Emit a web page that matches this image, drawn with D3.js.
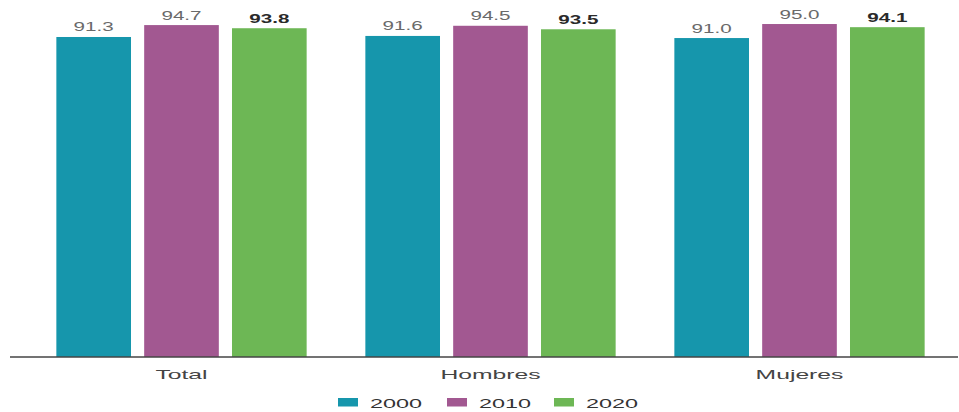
<!DOCTYPE html>
<html><head><meta charset="utf-8">
<script src="https://cdn.jsdelivr.net/npm/d3@7"></script>
<style>body{margin:0;background:#fff}svg{display:block;font-family:"Liberation Sans",Arial,sans-serif}</style>
</head><body><svg id="c" width="959" height="412"></svg>
<script>
const categories = ["Total", "Hombres", "Mujeres"];
const years = ["2000", "2010", "2020"];
const values2000 = [91.3, 91.6, 91.0];
const values2010 = [94.7, 94.5, 95.0];
const values2020 = [93.8, 93.5, 94.1];
const colors = ["#1696ac", "#a25891", "#6db755"];

const series = [values2000, values2010, values2020];
const svg = d3.select("#c");
const x0 = d3.scaleBand().domain(categories).range([27, 954]).paddingInner(0.19).paddingOuter(0.095);
const x1 = d3.scaleBand().domain(years).range([0, x0.bandwidth()]).paddingInner(0.15).paddingOuter(0);
const y = d3.scaleLinear().domain([0, 100]).range([357, 6.5]);

function stretchedText(sel, x, yy, sx, size, txt) {
  return sel.append("text").attr("transform", `translate(${x},${yy}) scale(${sx},1)`)
    .attr("font-size", size).text(txt);
}

categories.forEach((c, i) => {
  const g = svg.append("g").attr("transform", `translate(${x0(c)},0)`);
  years.forEach((yr, j) => {
    const v = series[j][i];
    g.append("rect").attr("x", x1(yr)).attr("y", y(v)).attr("width", x1.bandwidth()).attr("height", y(0) - y(v)).attr("fill", colors[j]);
    stretchedText(g, x1(yr) + x1.bandwidth() / 2, y(v) - 5.5, 1.65, 12.5, v.toFixed(1))
      .attr("text-anchor", "middle")
      .attr("font-weight", j === 2 ? "bold" : "normal")
      .attr("fill", j === 2 ? "#2a2a2a" : "#6a6a6a");
  });
});

const axis = svg.append("g").attr("transform", `translate(0,${y(0)})`)
  .call(d3.axisBottom(x0).tickSize(0).tickPadding(12));
axis.select(".domain").attr("d", "M10,0H958").attr("stroke", "#444").attr("stroke-width", 1.5);
axis.selectAll(".tick text").remove();
axis.selectAll(".tick").each(function(d) {
  stretchedText(d3.select(this), 0, 22, 1.9, 13, d).attr("text-anchor", "middle").attr("fill", "#444");
});

const lx = [338, 447, 554];
years.forEach((yr, j) => {
  svg.append("rect").attr("x", lx[j]).attr("y", 398).attr("width", 20).attr("height", 8.5).attr("fill", colors[j]);
  stretchedText(svg, lx[j] + 32, 408, 1.8, 13, yr).attr("fill", "#333");
});
</script></body></html>
